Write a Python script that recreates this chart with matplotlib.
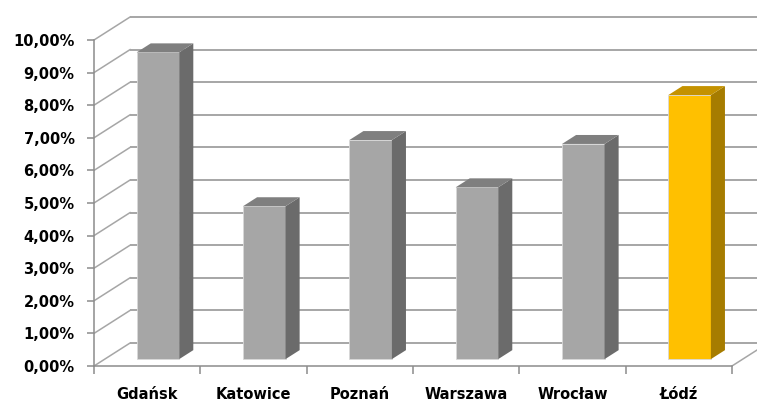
import matplotlib.pyplot as plt
from matplotlib.patches import Polygon
from matplotlib.ticker import FuncFormatter

cities = ["Gdańsk", "Katowice", "Poznań", "Warszawa", "Wrocław", "Łódź"]
values = [9.41, 4.69, 6.72, 5.27, 6.60, 8.10]
highlight = "Łódź"

# oblique "3D" offset of the back wall, in data units
DX = 0.339   # categories
DY = 0.705   # percent
Z0 = 0.30    # depth of bar front face
DZ = 0.39    # bar depth
BW = 0.40    # bar width

grid_c = "#a6a6a6"
axis_c = "#8c8c8c"

fig = plt.figure(figsize=(7.57, 4.03), dpi=100)
ax = fig.add_axes([94 / 757, 37 / 403, 663 / 757, 366 / 403])
ax.set_xlim(0, 663 / 106.33)
ax.set_ylim(0, 366 / 32.6)

n = len(cities)

# back wall gridlines and left wall diagonals
for t in range(0, 11):
    ax.plot([DX, n + DX + 1], [t + DY, t + DY], color=grid_c, lw=1.4, zorder=1,
            solid_capstyle="butt")
    ax.plot([0, DX], [t, t + DY], color=grid_c, lw=1.1, zorder=1)
# floor right edge
ax.plot([n, n + DX], [0, DY], color=grid_c, lw=1.1, zorder=1)

# bars
for i, (c, v) in enumerate(zip(cities, values)):
    if c == highlight:
        front, side, top = "#ffc000", "#a67c00", "#c49200"
    else:
        front, side, top = "#a6a6a6", "#6b6b6b", "#7f7f7f"
    xl = i + 0.5 - BW / 2 + Z0 * DX
    xr = xl + BW
    b = Z0 * DY
    ddx, ddy = DZ * DX, DZ * DY
    ax.bar(i + 0.5 + Z0 * DX, v, width=BW, bottom=b, color=front,
           edgecolor="#d9d9d9", linewidth=0.6, zorder=3)
    ax.add_patch(Polygon([(xr, b), (xr + ddx, b + ddy), (xr + ddx, b + v + ddy),
                          (xr, b + v)], closed=True, facecolor=side,
                         edgecolor="none", zorder=3))
    ax.add_patch(Polygon([(xl, b + v), (xr, b + v), (xr + ddx, b + v + ddy),
                          (xl + ddx, b + v + ddy)], closed=True, facecolor=top,
                         edgecolor="none", zorder=3))

# axes
for s in ["top", "right"]:
    ax.spines[s].set_visible(False)
ax.spines["left"].set_bounds(0, 10)
ax.spines["bottom"].set_bounds(0, n)
for s in ["left", "bottom"]:
    ax.spines[s].set_color(axis_c)
    ax.spines[s].set_linewidth(1.1)

ax.set_yticks(range(0, 11))
ax.yaxis.set_major_formatter(FuncFormatter(lambda y, _: f"{y:.2f}%".replace(".", ",")))
ax.set_xticks(range(0, n + 1))
ax.set_xticklabels([])
ax.set_xticks([i + 0.5 for i in range(n)], minor=True)
ax.set_xticklabels(cities, minor=True)
ax.tick_params(axis="y", direction="out", length=5, width=1.1, color=axis_c,
               labelsize=10.5, pad=9)
ax.tick_params(axis="x", which="major", direction="out", length=6, width=1.1,
               color=axis_c)
ax.tick_params(axis="x", which="minor", length=0, labelsize=10.5, pad=15)
for lab in ax.get_yticklabels() + ax.get_xticklabels(minor=True):
    lab.set_fontweight("bold")

fig.savefig("out.png", dpi=100)
